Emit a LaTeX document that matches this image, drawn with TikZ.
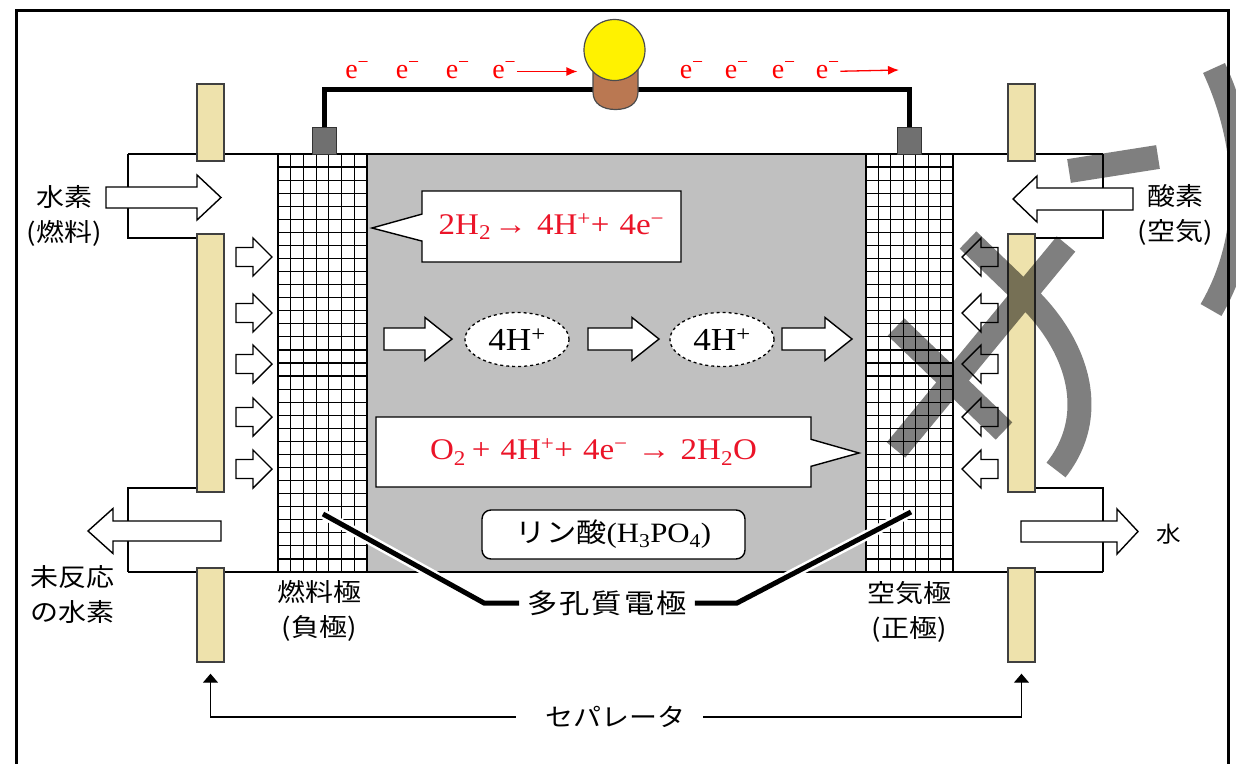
\documentclass[tikz,border=0pt]{standalone}
\usepackage{fontspec}
\setmainfont{Liberation Serif}
\newfontfamily\eqfont[FakeStretch=1.1]{Liberation Serif}
\newfontfamily\jpfont[FakeStretch=1.12]{Noto Sans CJK JP}
\usetikzlibrary{arrows.meta,shapes.geometric,shapes.callouts}

\definecolor{electrolyte}{RGB}{192,192,192}
\definecolor{sepcolor}{RGB}{238,226,172}
\definecolor{termcolor}{RGB}{112,112,112}
\definecolor{bulbyellow}{RGB}{255,242,0}
\definecolor{bulbbase}{RGB}{186,120,82}
\definecolor{eqred}{RGB}{235,20,40}

% block arrow: start x, tip x, centre y, half body, half head, head length (signed)
\newcommand{\flowarrow}[6]{%
  \draw[flow] (#1,{#3-#4}) -- ({#2-(#6)},{#3-#4}) -- ({#2-(#6)},{#3-#5})
    -- (#2,#3) -- ({#2-(#6)},{#3+#5}) -- ({#2-(#6)},{#3+#4}) -- (#1,{#3+#4}) -- cycle;}

% porous electrode: left x, width
\newcommand{\gridelectrode}[2]{%
  \fill[white] (#1,154) rectangle ({#1+#2},572);
  \foreach \i in {0,...,7} \draw[gridline] ({#1+\i*#2/7},154) -- ({#1+\i*#2/7},572);
  \foreach \j in {0,...,32} \draw[gridline] (#1,{154+\j*13.0625}) -- ({#1+#2},{154+\j*13.0625});}

\begin{document}
\begin{tikzpicture}[x=1pt,y=-1pt,
    flow/.style={draw=black, fill=white, line width=1.4pt},
    wall/.style={line width=1.6pt},
    gridline/.style={line width=1.2pt},
    sepbar/.style={draw=black!75, fill=sepcolor, line width=1.4pt, minimum width=27pt, inner sep=0pt},
    terminal/.style={draw=black!80, fill=termcolor, line width=1pt, minimum width=24pt, minimum height=27pt, inner sep=0pt},
    bulb/.style={circle, draw=black!70, fill=bulbyellow, line width=1.2pt, minimum size=61pt, inner sep=0pt},
    wire/.style={line width=5pt},
    electron/.style={text=red, font=\fontsize{28}{30}\selectfont, inner sep=0pt, text height=13pt, text depth=0pt},
    eflow/.style={red, line width=1.3pt, -{Latex[length=11pt,width=9pt]}},
    reaction/.style={rectangle callout, draw, fill=white, line width=1.4pt, callout pointer width=27pt,
      text=eqred, font=\eqfont\fontsize{30}{32}\selectfont, inner sep=0pt},
    ion/.style={ellipse, draw, dashed, fill=white, line width=1.3pt, minimum width=104pt, minimum height=54pt,
      font=\eqfont\fontsize{32}{34}\selectfont, inner sep=0pt},
    acid/.style={draw, fill=white, rounded corners=9pt, line width=1.4pt, minimum width=263pt, minimum height=49pt,
      font=\eqfont\fontsize{28}{30}\selectfont, inner sep=0pt},
    jp/.style={font=\jpfont\fontsize{25}{35}\selectfont, inner sep=0pt, align=center},
    leader/.style={line width=5pt, preaction={draw=white, line width=10pt}},
    septip/.style={line width=1.3pt, -{Triangle[length=9pt,width=15pt]}, shorten >=11pt},
    scribble/.style={draw=black, draw opacity=0.5, line width=24pt}]
  \useasboundingbox (0,0) rectangle (1236,763);
  \clip (0,0) rectangle (1236,763);
  % frame, open at the bottom
  \draw[line width=3pt] (16.5,800) -- (16.5,10) -- (1228,10) -- (1228,800);

  % phosphoric acid between the electrodes
  \fill[electrolyte] (367,154) rectangle (866,572);
  % cell walls and gas channels
  \draw[wall] (128,154) -- (1103,154);
  \draw[wall] (128,572) -- (1103,572);
  \draw[wall] (197,238) -- (128,238) -- (128,154);
  \draw[wall] (197,488) -- (128,488) -- (128,572);
  \draw[wall] (1036,238) -- (1103,238) -- (1103,154);
  \draw[wall] (1036,488) -- (1103,488) -- (1103,572);

  % porous electrodes
  \gridelectrode{278}{89}
  \gridelectrode{866}{87}

  % separators
  \foreach \x/\s in {210.5/L,1021.5/R} {
    \node[sepbar, minimum height=77pt] (sep\s a) at (\x,122.5) {};
    \node[sepbar, minimum height=258pt] (sep\s b) at (\x,363) {};
    \node[sepbar, minimum height=94pt] (sep\s c) at (\x,615) {};
  }

  % gas in and out
  \flowarrow{106}{221}{197.5}{10.5}{22.5}{24}
  \flowarrow{1133}{1013}{199}{11}{23}{-24}
  \flowarrow{221}{88}{531}{10}{22.5}{-25}
  \flowarrow{1021}{1138}{531.5}{10.5}{22.5}{21}
  \foreach \y in {257,313,364,417,469} {
    \flowarrow{236}{272}{\y}{9.5}{19}{19}
    \flowarrow{998}{962}{\y}{9.5}{19}{-19}
  }

  % electrode reactions
  \node[reaction, minimum width=259pt, minimum height=71pt, callout absolute pointer={(372,228)}]
    (anodeeq) at (551.5,226.5) {2H\textsubscript{2}\kern3pt→\kern10pt 4H\textsuperscript{+}+\kern10pt 4e\textsuperscript{−}};
  \node[reaction, minimum width=435pt, minimum height=70pt, callout absolute pointer={(859,453)}]
    (cathodeeq) at (593.5,452) {O\textsubscript{2}\kern6pt+\kern10pt 4H\textsuperscript{+}+\kern10pt 4e\textsuperscript{−}\kern10pt→\kern10pt 2H\textsubscript{2}O};

  % proton transport
  \flowarrow{384}{452}{339}{11}{21.5}{27}
  \node[ion] (ionA) at (517,339.5) {4H\textsuperscript{+}};
  \flowarrow{588}{659}{339}{11}{21.5}{27}
  \node[ion] (ionB) at (722,339.5) {4H\textsuperscript{+}};
  \flowarrow{782}{852}{339}{11}{21.5}{27}

  \node[acid] (acid) at (613.5,534.5) {{\jpfont\fontsize{27}{30}\selectfont リン酸}(H\textsubscript{3}PO\textsubscript{4})};

  % external circuit and lamp
  \node[terminal] (termA) at (324.5,140.5) {};
  \node[terminal] (termC) at (909,140.5) {};
  \draw[wire] (termA.north) -- ++(0,-37) -| (termC.north);
  \fill[bulbbase, draw=black!70, line width=1.2pt] (593,62) -- (593,92)
    .. controls (593,104) and (603,109.5) .. (615.5,109.5)
    .. controls (628,109.5) and (638,104) .. (638,92) -- (638,62) -- cycle;
  \node[bulb] (bulb) at (614.5,50) {};

  % electrons
  \foreach \x [count=\i] in {351.5,402,452,498.5}
    \node[electron] (eL\i) at (\x,71.5) {e\rlap{\textsuperscript{−}}};
  \foreach \x [count=\i] in {686,731,778,822}
    \node[electron] (eR\i) at (\x,71.5) {e\rlap{\textsuperscript{−}}};
  \coordinate (eflowend) at (899,70);
  \draw[eflow, shorten <=12pt, shorten >=6pt] (eL4.east) -- (bulb.west |- eL4.east);
  \draw[eflow, shorten <=12pt] (eR4.east) -- (eflowend);

  % porous electrode label
  \coordinate (porA) at (323,514);
  \coordinate (porC) at (911,512);
  \node[jp, font=\jpfont\fontsize{27}{30}\selectfont, inner xsep=8pt] (porous) at (607,603)
    {多\kern2pt 孔\kern2pt 質\kern2pt 電\kern2pt 極};
  \draw[leader] (porA) -- (484,0 |- porous.west) -- (porous.west);
  \draw[leader] (porC) -- (737,0 |- porous.east) -- (porous.east);

  % separator label
  \node[jp] (sepname) at (615,717) {セパレータ};
  \draw[septip, shorten <=29pt] (sepname.west) -| (sepLc.south);
  \draw[septip, shorten <=18pt] (sepname.east) -| (sepRc.south);

  % gas and electrode names
  \node[jp] (h2in) at (64,216) {水素\\(燃料)};
  \node[jp] (o2in) at (1175,215) {酸素\\(空気)};
  \node[jp] (h2out) at (72,595) {未反応\\の水素};
  \node[jp] (waterout) at (1169,534) {\fontsize{22}{24}\selectfont 水};
  \node[jp] (anodename) at (319,611) {燃料極\\(負極)};
  \node[jp] (cathodename) at (909,612) {空気極\\(正極)};

  % strokes laid over the air side
  \path[scribble] (1069,171) -- (1158,157)
    (1214,68) .. controls (1252,150) and (1252,240) .. (1211,310)
    (968,240) -- (1022,292) .. controls (1075,340) and (1102,412) .. (1056,470)
    (1066,244) -- (896,450)
    (896,327) -- (1004,431);
\end{tikzpicture}
\end{document}
